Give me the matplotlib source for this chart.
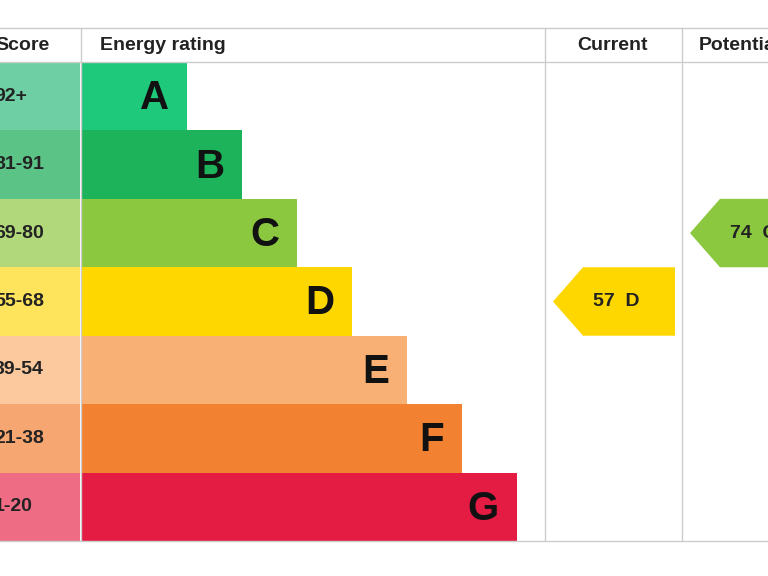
import matplotlib
matplotlib.use("Agg")
import matplotlib.pyplot as plt
from matplotlib.patches import Polygon

plt.rcParams["font.family"] = ["Liberation Sans", "DejaVu Sans"]

bands = ["A", "B", "C", "D", "E", "F", "G"]
scores = ["92+", "81-91", "69-80", "55-68", "39-54", "21-38", "1-20"]
bar_ends = [187, 242, 297, 352, 407, 462, 517]
colors = ["#1ec97c", "#1cb35a", "#8cc83f", "#fed700", "#f9b075", "#f28131", "#e41c43"]
light = ["#6fcfa4", "#5cc387", "#b1d97c", "#fee45c", "#fbc99d", "#f6a671", "#ee6d85"]
current = (57, "D")
potential = (74, "C")

fig = plt.figure(figsize=(7.68, 5.76), dpi=100)
ax = fig.add_axes([0, 0, 1, 1])
ax.set_xlim(0, 768); ax.set_ylim(576, 0); ax.axis("off")

top, head, bot = 28, 62, 541
rh = (bot - head) / len(bands)
lc = "#cccccc"
for y in (top, head, bot):
    ax.plot([0, 768], [y, y], color=lc, lw=1)
for x in (81, 545, 682):
    ax.plot([x, x], [top, bot], color=lc, lw=1)

ax.text(-5, 45, "Score", fontsize=14, fontweight="bold", va="center", ha="left", color="#222")
ax.text(100, 45, "Energy rating", fontsize=14, fontweight="bold", va="center", color="#222")
ax.text(613, 45, "Current", fontsize=14, fontweight="bold", va="center", ha="center", color="#222")
ax.text(699, 45, "Potential", fontsize=14, fontweight="bold", va="center", ha="left", color="#222")

ys = [head + rh * i + rh / 2 for i in range(len(bands))]
ax.barh(ys, [80] * 7, left=0, height=rh, color=light)
ax.barh(ys, [e - 81 for e in bar_ends], left=81, height=rh, color=colors)
for y, s, b, e in zip(ys, scores, bands, bar_ends):
    ax.text(-6, y, s, fontsize=14, fontweight="bold", va="center", ha="left", color="#222")
    ax.text(e - 18, y + 2, b, fontsize=29, fontweight="bold", va="center", ha="right", color="#111")

def arrow(val, band, x0, x1):
    i = bands.index(band)
    y0 = head + rh * i; y1 = y0 + rh; ym = (y0 + y1) / 2
    pts = [(x0, ym), (x0 + 30, y0), (x1, y0), (x1, y1), (x0 + 30, y1)]
    ax.add_patch(Polygon(pts, closed=True, color=colors[i], lw=0))
    ax.text(x0 + 40, ym, f"{val}  {band}", fontsize=14, fontweight="bold", va="center", ha="left", color="#222")

arrow(current[0], current[1], 553, 675)
arrow(potential[0], potential[1], 690, 800)

fig.savefig("out.png", dpi=100)
